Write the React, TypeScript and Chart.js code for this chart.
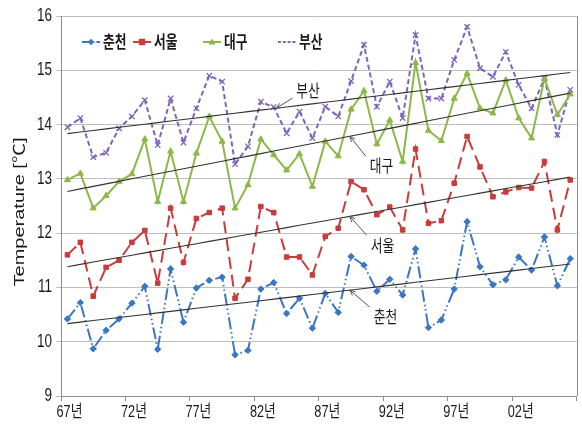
import { useEffect, useRef } from 'react';
import { Chart, registerables } from 'chart.js';
Chart.register(...registerables);

// ---- data ----
const years = [
  1967, 1968, 1969, 1970, 1971, 1972, 1973, 1974, 1975, 1976,
  1977, 1978, 1979, 1980, 1981, 1982, 1983, 1984, 1985, 1986,
  1987, 1988, 1989, 1990, 1991, 1992, 1993, 1994, 1995, 1996,
  1997, 1998, 1999, 2000, 2001, 2002, 2003, 2004, 2005, 2006,
];
const xTickLabels = ['67년', '72년', '77년', '82년', '87년', '92년', '97년', '02년'];
const yTicks = [9, 10, 11, 12, 13, 14, 15, 16];

const chuncheon = [
  10.42, 10.72, 9.87, 10.21, 10.42, 10.71, 11.02, 9.86, 11.34, 10.36,
  10.99, 11.13, 11.19, 9.76, 9.84, 10.97, 11.09, 10.52, 10.8, 10.25,
  10.89, 10.54, 11.57, 11.41, 10.93, 11.15, 10.86, 11.71, 10.26, 10.4,
  10.97, 12.21, 11.38, 11.05, 11.14, 11.56, 11.32, 11.93, 11.03, 11.53,
];
const seoul = [
  11.6, 11.83, 10.84, 11.37, 11.5, 11.83, 12.05, 11.08, 12.46, 11.46,
  12.27, 12.38, 12.46, 10.8, 11.15, 12.49, 12.38, 11.56, 11.56, 11.23,
  11.94, 12.09, 12.95, 12.8, 12.34, 12.48, 12.06, 13.55, 12.18, 12.23,
  12.92, 13.78, 13.22, 12.67, 12.76, 12.84, 12.83, 13.32, 12.06, 12.98,
];
const daegu = [
  12.98, 13.1, 12.46, 12.69, 12.95, 13.09, 13.73, 12.58, 13.51, 12.58,
  13.47, 14.15, 13.69, 12.46, 12.89, 13.73, 13.44, 13.16, 13.46, 12.86,
  13.69, 13.42, 14.28, 14.62, 13.64, 14.08, 13.32, 15.14, 13.89, 13.7,
  14.48, 14.94, 14.3, 14.21, 14.82, 14.12, 13.75, 14.85, 14.18, 14.56,
];
const busan = [
  13.95, 14.12, 13.4, 13.48, 13.93, 14.15, 14.45, 13.62, 14.48, 13.67,
  14.3, 14.9, 14.79, 13.27, 13.6, 14.42, 14.32, 13.84, 14.24, 13.75,
  14.33, 14.15, 14.8, 15.47, 14.33, 14.79, 14.12, 15.65, 14.48, 14.48,
  15.19, 15.8, 15.04, 14.88, 15.34, 14.73, 14.3, 14.85, 13.81, 14.64,
];
const seriesNames = ['춘천', '서울', '대구', '부산'];

// ---- styles ----
const COLORS = ['#3a76c6', '#c83c3b', '#8cb848', '#7a66bc'];
const DASHES: number[][] = [[12, 3, 1.5, 3, 1.5, 3], [12, 6], [], [5, 3]];
const POINT_STYLES = ['rectRot', 'rect', 'triangle', 'crossRot'];
const POINT_RADII = [3.2, 3.2, 3.5, 3.8];
const LEGEND_X = [82, 133, 203, 278];
const TXT_SX = 0.75;
const FONT_LAT = "'Liberation Sans', Arial, 'Noto Sans CJK KR', sans-serif";
const FONT_KR = "'Noto Sans CJK KR', 'Liberation Sans', sans-serif";

function regression(vals: number[]) {
  const n = vals.length;
  let sx = 0, sy = 0, sxx = 0, sxy = 0;
  vals.forEach((v, i) => { sx += i; sy += v; sxx += i * i; sxy += i * v; });
  const b = (n * sxy - sx * sy) / (n * sxx - sx * sx);
  const a = (sy - b * sx) / n;
  return { a, b };
}

const allSeries = [chuncheon, seoul, daegu, busan];
const fits = allSeries.map(regression);

// annotation layout (tip index on trend line, pixel offsets)
const ANNOTS = [
  { s: 3, at: 16.2, start: [16, -10], label: [32, -18] },
  { s: 2, at: 21.9, start: [16, 20], label: [32, 29] },
  { s: 1, at: 21.9, start: [17, 19], label: [33, 29] },
  { s: 0, at: 21.9, start: [20, 17], label: [36, 26] },
];

function drawText(ctx: CanvasRenderingContext2D, text: string, x: number, y: number, font: string, align: CanvasTextAlign, color = '#1a1a1a') {
  ctx.save();
  ctx.translate(x, y);
  ctx.scale(TXT_SX, 1);
  ctx.font = font;
  ctx.fillStyle = color;
  ctx.textAlign = align;
  ctx.textBaseline = 'middle';
  ctx.fillText(text, 0, 0);
  ctx.restore();
}

function drawMarker(ctx: CanvasRenderingContext2D, style: string, x: number, y: number, r: number, color: string) {
  ctx.save();
  ctx.fillStyle = color;
  ctx.strokeStyle = color;
  ctx.lineWidth = 1.5;
  ctx.setLineDash([]);
  ctx.beginPath();
  if (style === 'rectRot') {
    ctx.moveTo(x, y - r); ctx.lineTo(x + r, y); ctx.lineTo(x, y + r); ctx.lineTo(x - r, y); ctx.closePath(); ctx.fill();
  } else if (style === 'rect') {
    ctx.rect(x - r, y - r, 2 * r, 2 * r); ctx.fill();
  } else if (style === 'triangle') {
    ctx.moveTo(x, y - r); ctx.lineTo(x + r, y + r * 0.7); ctx.lineTo(x - r, y + r * 0.7); ctx.closePath(); ctx.fill();
  } else {
    ctx.moveTo(x - r * 0.7, y - r * 0.7); ctx.lineTo(x + r * 0.7, y + r * 0.7);
    ctx.moveTo(x + r * 0.7, y - r * 0.7); ctx.lineTo(x - r * 0.7, y + r * 0.7); ctx.stroke();
  }
  ctx.restore();
}

const decorPlugin = {
  id: 'decor',
  afterDraw(chart: any) {
    const ctx: CanvasRenderingContext2D = chart.ctx;
    const { left, right, top, bottom } = chart.chartArea;
    const xs = chart.scales.x;
    const ys = chart.scales.y;

    // frame (right edge)
    ctx.save();
    ctx.strokeStyle = '#8c8c8c';
    ctx.lineWidth = 1;
    ctx.beginPath();
    ctx.moveTo(Math.round(right) + 0.5, top);
    ctx.lineTo(Math.round(right) + 0.5, bottom);
    ctx.stroke();
    ctx.restore();

    // y tick labels
    yTicks.forEach((v) => {
      drawText(ctx, String(v), left - 9, ys.getPixelForValue(v), `18px ${FONT_LAT}`, 'right');
    });
    // x tick labels
    xTickLabels.forEach((t, k) => {
      drawText(ctx, t, xs.getPixelForValue(k * 5) + 2, bottom + 16, `17px ${FONT_LAT}`, 'center');
    });

    // y title
    ctx.save();
    ctx.translate(20, 212);
    ctx.rotate(-Math.PI / 2);
    ctx.scale(1, 0.74);
    ctx.font = `20px ${FONT_LAT}`;
    ctx.fillStyle = '#1a1a1a';
    ctx.textAlign = 'center';
    ctx.textBaseline = 'middle';
    ctx.fillText('Temperature [℃]', 0, 0);
    ctx.restore();

    // legend
    const ly = 42;
    seriesNames.forEach((name, k) => {
      const x0 = LEGEND_X[k];
      ctx.save();
      ctx.strokeStyle = COLORS[k];
      ctx.lineWidth = 2;
      ctx.setLineDash(DASHES[k].length ? DASHES[k].map((d) => d * 0.6) : []);
      ctx.beginPath();
      ctx.moveTo(x0, ly);
      ctx.lineTo(x0 + 18, ly);
      ctx.stroke();
      ctx.restore();
      if (k !== 3) drawMarker(ctx, POINT_STYLES[k], x0 + 9, ly, POINT_RADII[k], COLORS[k]);
      drawText(ctx, name, x0 + 21, ly, `bold 17px ${FONT_KR}`, 'left');
    });

    // annotations
    ANNOTS.forEach((an) => {
      const f = fits[an.s];
      const tx = xs.getPixelForValue(an.at);
      const ty = ys.getPixelForValue(f.a + f.b * an.at);
      const sx = tx + an.start[0];
      const sy = ty + an.start[1];
      ctx.save();
      ctx.strokeStyle = '#555';
      ctx.lineWidth = 1;
      ctx.beginPath();
      ctx.moveTo(sx, sy);
      ctx.lineTo(tx, ty);
      const ang = Math.atan2(ty - sy, tx - sx);
      const hl = 6;
      ctx.moveTo(tx, ty);
      ctx.lineTo(tx - hl * Math.cos(ang - 0.4), ty - hl * Math.sin(ang - 0.4));
      ctx.moveTo(tx, ty);
      ctx.lineTo(tx - hl * Math.cos(ang + 0.4), ty - hl * Math.sin(ang + 0.4));
      ctx.stroke();
      ctx.restore();
      drawText(ctx, seriesNames[an.s], tx + an.label[0] - 12, ty + an.label[1], `17px ${FONT_KR}`, 'left');
    });
  },
};

export default function App() {
  const ref = useRef<HTMLCanvasElement>(null);
  useEffect(() => {
    if (!ref.current) return;
    const dataSets: any[] = allSeries.map((vals, k) => ({
      label: seriesNames[k],
      data: vals,
      borderColor: COLORS[k],
      backgroundColor: COLORS[k],
      borderWidth: 2,
      borderDash: DASHES[k],
      pointStyle: POINT_STYLES[k],
      pointRadius: POINT_RADII[k],
      pointBorderWidth: k === 3 ? 1.3 : 1,
      pointBorderColor: COLORS[k],
      pointBackgroundColor: COLORS[k],
      tension: 0,
      order: 2,
    }));
    fits.forEach((f, k) => {
      dataSets.push({
        label: seriesNames[k] + ' 추세',
        data: years.map((_, i) => f.a + f.b * i),
        borderColor: '#333333',
        borderWidth: 1.1,
        pointRadius: 0,
        tension: 0,
        order: 1,
      });
    });
    const chart = new Chart(ref.current, {
      type: 'line',
      data: { labels: years.map(String), datasets: dataSets },
      options: {
        animation: false,
        responsive: false,
        layout: { padding: { top: 16, right: 4, left: 0, bottom: 0 } },
        plugins: { legend: { display: false }, tooltip: { enabled: false } },
        scales: {
          x: {
            type: 'category',
            offset: true,
            grid: {
              display: true,
              drawOnChartArea: false,
              drawTicks: true,
              tickLength: 5,
              offset: true,
              color: (c: any) => (c.index === undefined || c.index % 5 === 0 ? '#8c8c8c' : 'rgba(0,0,0,0)'),
            },
            border: { display: true, color: '#8c8c8c' },
            ticks: { display: false, autoSkip: false },
            afterFit: (s: any) => { s.height = 36; },
          },
          y: {
            min: 9,
            max: 16,
            ticks: { display: false, stepSize: 1 },
            grid: { color: '#bfbfbf', tickLength: 5, drawTicks: true },
            border: { display: true, color: '#8c8c8c' },
            afterFit: (s: any) => { s.width = 61; },
          },
        },
      },
      plugins: [decorPlugin],
    } as any);
    return () => chart.destroy();
  }, []);
  return (
    <div style={{ position: 'fixed', left: 0, top: 0, width: 582, height: 432, background: '#fff' }}>
      <canvas ref={ref} width={582} height={432} style={{ width: 582, height: 432 }} />
    </div>
  );
}
